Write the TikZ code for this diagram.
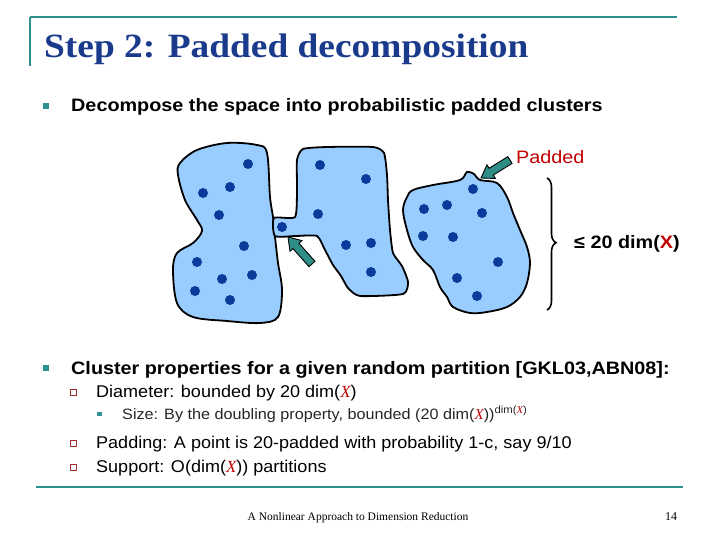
\documentclass[tikz,border=0pt]{standalone}
\usepackage{fontspec}
\setmainfont{Liberation Sans}
\newfontfamily\sfw[FakeStretch=1.10]{Liberation Sans}
\newfontfamily\sfm[FakeStretch=1.06]{Liberation Sans}
\newfontfamily\sfs[FakeStretch=1.08]{Liberation Sans}
\newfontfamily\ttlfont[FakeStretch=1.10]{Liberation Serif}
\newfontfamily\footfont{Liberation Serif}
\usetikzlibrary{calc,decorations.pathreplacing}
\definecolor{ttlblue}{HTML}{1A3A8C}
\definecolor{teal2}{HTML}{2E9191}
\definecolor{blobfill}{HTML}{99CCFF}
\definecolor{dotblue}{HTML}{0A3A9A}
\definecolor{padred}{HTML}{C00000}
\definecolor{qred}{HTML}{A03030}
\definecolor{arrteal}{HTML}{2E8E86}
\newcommand{\Xv}{{\color{padred}\footfont\itshape X}}
% block arrow: #1 = tip, #2 = tail (named coordinates)
\newcommand{\blockarr}[2]{%
  \coordinate (#1n) at ($(#1)!12pt!(#2)$);
  \draw[barrow] (#1) -- ($(#1n)!8pt!90:(#2)$) -- ($(#1n)!4pt!90:(#2)$)
    -- ($(#2)!4pt!-90:(#1n)$) -- ($(#2)!4pt!90:(#1n)$)
    -- ($(#1n)!4pt!-90:(#2)$) -- ($(#1n)!8pt!-90:(#2)$) -- cycle;}
\begin{document}
\begin{tikzpicture}[x=1pt,y=-1pt,
  blob/.style={draw=black,line width=1.8pt,fill=blobfill},
  dot/.style={circle,fill=dotblue,inner sep=0pt,minimum size=10pt},
  barrow/.style={draw=black,line width=0.9pt,fill=arrteal,line join=miter},
  txt/.style={anchor=base west,inner sep=0pt},
  sqb/.style={fill=teal2,inner sep=0pt,minimum size=6pt},
  ssqb/.style={fill=teal2,inner sep=0pt,minimum size=4.5pt},
  qb/.style={draw=qred,line width=1pt,fill=white,inner sep=0pt,minimum size=6pt}]
\useasboundingbox (0,0) rectangle (720,540);
% header rules
\draw[teal2,line width=2pt] (30,17) coordinate (tl) -- (677,17) coordinate (tr);
\draw[teal2,line width=2pt] (tl) -- (30,66) coordinate (tb);
\node[txt,font=\ttlfont\bfseries\fontsize{34}{38}\selectfont,text=ttlblue] (title) at (44,58) {Step 2: Padded decomposition};
% bullet 1
\node[sqb] (b1) at (46,106) {};
\node[txt,font=\sfw\bfseries\fontsize{18}{21}\selectfont] (t1) at (71,112) {Decompose the space into probabilistic padded clusters};
% blobs
\draw[blob] plot[smooth cycle,tension=0.55] coordinates {(180,163) (197,150) (227,143) (257,145) (267,153) (270,197) (273,217) (275,237) (278,263) (282,290) (278,317) (260,323) (227,321) (193,317) (177,303) (173,270) (177,253) (193,243) (202,231) (197,220) (185,200) (178,175)};
\draw[blob] plot[smooth cycle,tension=0.35] coordinates {(297,160) (303,149) (327,147) (373,147) (384,153) (387,175) (388,200) (390,230) (393,253) (402,266) (408,282) (403,294) (360,296) (348,288) (341,276) (333,265) (325,250) (317,236) (296,236) (275,236) (274,218) (295,217) (297,190)};
\draw[blob] plot[smooth cycle,tension=0.55] coordinates {(407,197) (413,190) (433,185) (460,180) (467,172) (474,174) (480,180) (497,183) (507,197) (513,213) (520,230) (527,247) (530,263) (527,283) (520,297) (507,307) (487,312) (470,313) (453,307) (447,297) (440,287) (433,270) (423,260) (413,247) (407,230) (403,210)};
% dots
\foreach \p [count=\i] in {(248,164),(203,193),(230,187),(219,215),(244,246),(197,262),(222,279),(252,275),(195,291),(230,300),
  (320,165),(366,179),(318,214),(282,227),(346,245),(371,243),(371,272),
  (473,189),(424,209),(447,205),(482,213),(423,236),(453,237),(498,262),(457,278),(477,296)}
  \node[dot] (d\i) at \p {};
% arrows
\coordinate (a1) at (288,237);
\coordinate (a1t) at (312,264);
\blockarr{a1}{a1t}
\coordinate (a2) at (481,178);
\coordinate (a2t) at (510,160);
\blockarr{a2}{a2t}
\node[anchor=west,inner sep=0pt,text=padred,font=\sfw\fontsize{18}{21}\selectfont] (pad) at (516,157) {Padded};
% brace
\coordinate (bt) at (547,178);
\coordinate (bb) at (547,310);
\draw[line width=1.6pt,decorate,decoration={brace,amplitude=9pt,aspect=0.49}] (bt) -- (bb);
\node[anchor=west,inner sep=0pt,font=\sfw\bfseries\fontsize{18}{21}\selectfont] (dimlab) at (574,244) {≤ 20 dim({\color{padred}X})};
% bullet 2
\node[sqb] (b2) at (46,368) {};
\node[txt,font=\sfw\bfseries\fontsize{18}{21}\selectfont] (t2) at (71,374) {Cluster properties for a given random partition [GKL03,ABN08]:};
\node[qb] (q1) at (73,392) {};
\node[txt,font=\sfm\fontsize{17}{20}\selectfont] (t3) at (96,397) {Diameter: bounded by 20 dim(\Xv)};
\node[ssqb] (s1) at (99.5,414) {};
\node[txt,font=\sfs\fontsize{15}{18}\selectfont,text=black!85] (t4) at (122,419) {Size: By the doubling property, bounded (20 dim(\Xv))\textsuperscript{dim(\Xv)}};
\node[qb] (q2) at (73,443) {};
\node[txt,font=\sfm\fontsize{17}{20}\selectfont] (t5) at (96,448) {Padding: A point is 20-padded with probability 1-c, say 9/10};
\node[qb] (q3) at (73,467) {};
\node[txt,font=\sfm\fontsize{17}{20}\selectfont] (t6) at (96,472) {Support: O(dim(\Xv)) partitions};
% footer
\draw[teal2,line width=2.5pt] (36,487) coordinate (fl) -- (683,487) coordinate (fr);
\node[anchor=base,inner sep=0pt,font=\footfont\fontsize{11.5}{13}\selectfont] (foot) at (358,520) {A Nonlinear Approach to Dimension Reduction};
\node[anchor=base,inner sep=0pt,font=\footfont\fontsize{12}{13}\selectfont] (pg) at (671,520) {14};
\end{tikzpicture}
\end{document}
